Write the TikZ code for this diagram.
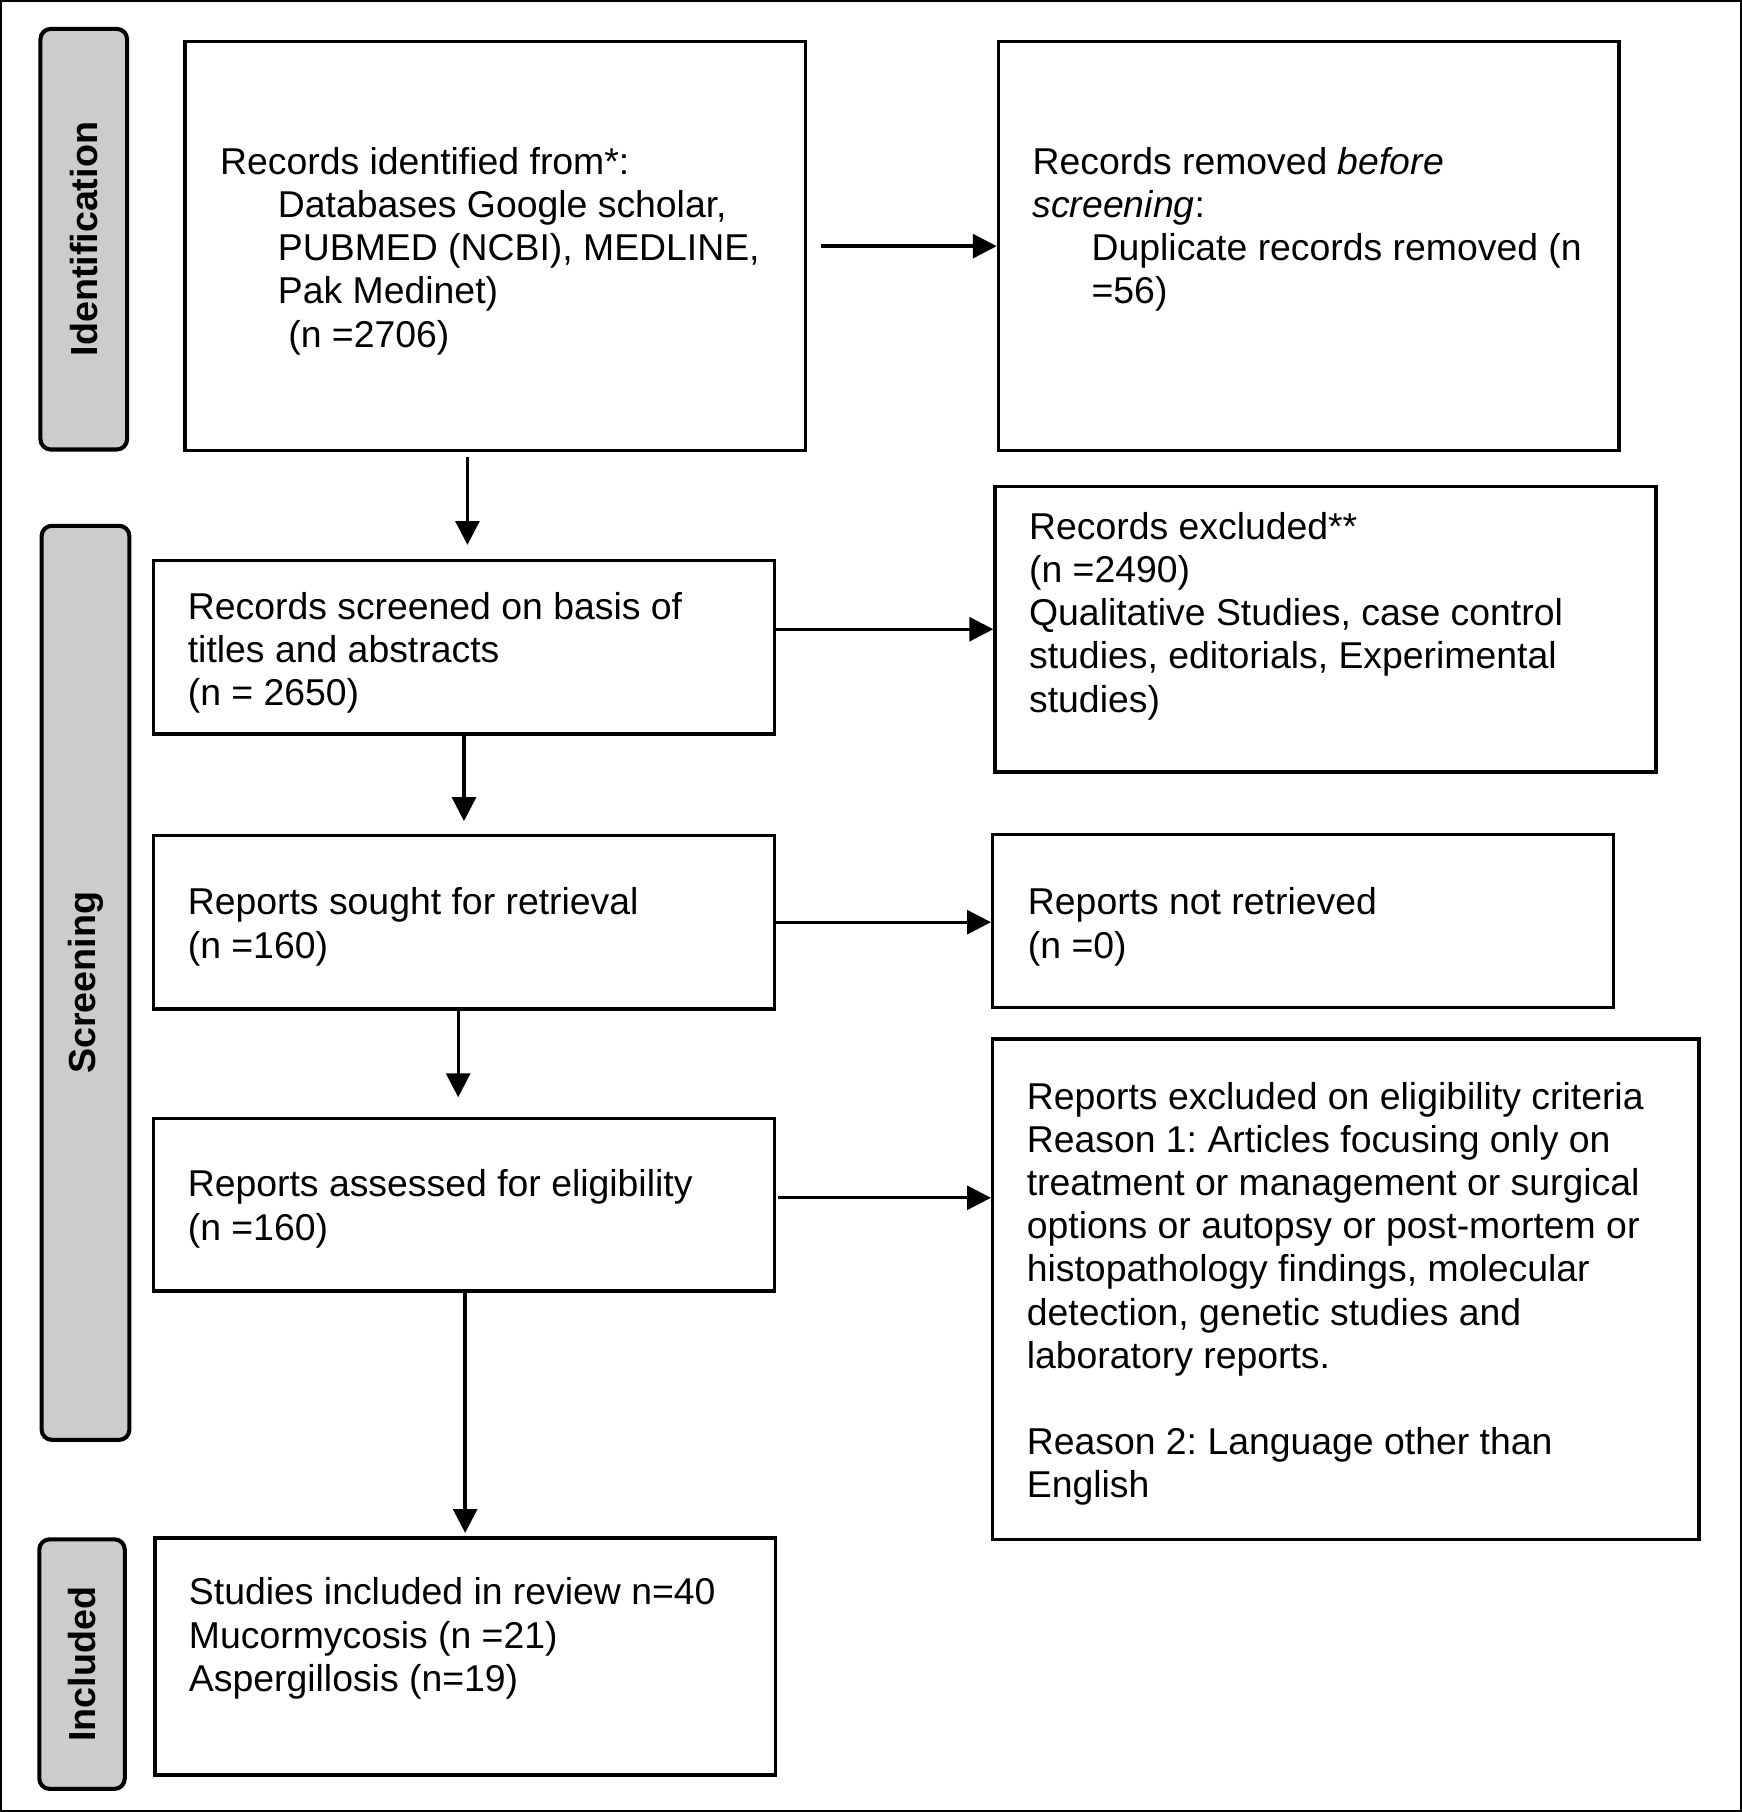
\documentclass[tikz,border=0pt]{standalone}
\usepackage{fontspec}
\setmainfont{Liberation Sans}
\usetikzlibrary{arrows.meta,fit,calc}
\definecolor{tabgray}{RGB}{204,204,204}
\frenchspacing
\begin{document}
\begin{tikzpicture}[x=0.368pt,y=-0.368pt,
  box/.style={draw, line width=1.1pt, inner sep=0pt},
  tabbox/.style={draw, line width=1.3pt, fill=tabgray, rounded corners=3.3pt, inner sep=0pt},
  tablabel/.style={rotate=90, font=\fontsize{12}{14}\selectfont\bfseries, inner sep=0pt},
  txt/.style={anchor=north west, align=left, inner sep=0pt, font=\fontsize{11.9}{13.76}\selectfont},
  arr/.style={line width=1.05pt, -{Triangle[length=7.6pt,width=7.6pt]}}
]
\useasboundingbox (0,0) rectangle (1507,1568);
\draw[line width=0.6pt] (0.8,0.8) rectangle (1506.2,1567.2);

% phase tabs
\node[tabbox, fit={(35,25) (110,389)}] (tabI) {};
\node[tablabel] (labI) at (tabI.center) {Identification};
\node[tabbox, fit={(36,455) (112,1246)}] (tabS) {};
\node[tablabel] (labS) at (tabS.center) {Screening};
\node[tabbox, fit={(34,1332) (108,1548)}] (tabN) {};
\node[tablabel] (labN) at (tabN.center) {Included};

% boxes
\node[box, fit={(160,36) (697,390)}] (b1) {};
\node[box, fit={(864,36) (1401,390)}] (b2) {};
\node[box, fit={(133,485) (670,635)}] (b3) {};
\node[box, fit={(861,421) (1433,668)}] (b4) {};
\node[box, fit={(133,723) (670,873)}] (b5) {};
\node[box, fit={(859,722) (1396,872)}] (b6) {};
\node[box, fit={(133,968) (670,1117)}] (b7) {};
\node[box, fit={(859,899) (1470,1332)}] (b8) {};
\node[box, fit={(134,1331) (671,1536)}] (b9) {};

% texts
\node[txt] (t1) at (190,124) {\strut Records identified from*:\\
\hspace*{18.4pt}Databases Google scholar,\\
\hspace*{18.4pt}PUBMED (NCBI), MEDLINE,\\
\hspace*{18.4pt}Pak Medinet)\\
\hspace*{18.4pt}\ (n =2706)};
\node[txt] (t2) at (893,124) {\strut Records removed \textit{before}\\
\textit{screening}:\\
\hspace*{18.8pt}Duplicate records removed (n\\
\hspace*{18.8pt}=56)};
\node[txt] (t3) at (162,509) {\strut Records screened on basis of\\
titles and abstracts\\
(n = 2650)};
\node[txt] (t4) at (890,440) {\strut Records excluded**\\
(n =2490)\\
Qualitative Studies, case control\\
studies, editorials, Experimental\\
studies)};
\node[txt] (t5) at (162,765) {\strut Reports sought for retrieval\\
(n =160)};
\node[txt] (t6) at (889,765) {\strut Reports not retrieved\\
(n =0)};
\node[txt] (t7) at (162,1009) {\strut Reports assessed for eligibility\\
(n =160)};
\node[txt] (t8) at (888,933) {\strut Reports excluded on eligibility criteria\\
Reason 1: Articles focusing only on\\
treatment or management or surgical\\
options or autopsy or post-mortem or\\
histopathology findings, molecular\\
detection, genetic studies and\\
laboratory reports.\\[13.76pt]
Reason 2: Language other than\\
English};
\node[txt] (t9) at (163,1362) {\strut Studies included in review n=40\\
Mucormycosis (n =21)\\
Aspergillosis (n=19)};

% connectors
\draw[arr] ($(b1.east)+(12,0)$) -- (b2.west);
\draw[arr] ($(b1.south -| b3.north)+(3,4)$) -- ($(b3.north)+(3,-12)$);
\draw[arr] (b3.east |- b4.west) -- (b4.west);
\draw[arr] (b3.south) -- ($(b5.north)+(0,-11)$);
\draw[arr] (b5.east) -- (b6.west |- b5.east);
\draw[arr] ($(b5.south)+(-5,0)$) -- ($(b7.north)+(-5,-17)$);
\coordinate (c78) at ($(b7.east)+(2,-6)$);
\draw[arr] (c78) -- (c78 -| b8.west);
\draw[arr] (b7.south -| b9.north) -- ($(b9.north)+(0,-3)$);
\end{tikzpicture}
\end{document}
